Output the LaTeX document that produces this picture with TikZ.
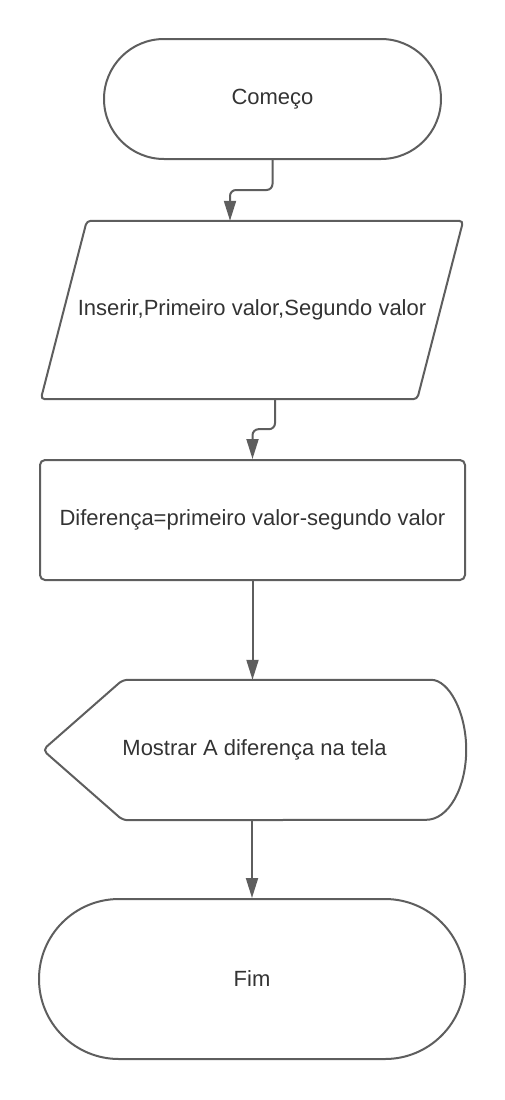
\documentclass[tikz,border=0pt]{standalone}
\usepackage{fontspec}
\setmainfont{Liberation Sans}
\usetikzlibrary{arrows.meta}
\definecolor{traco}{HTML}{5E5E5E}
\definecolor{texto}{HTML}{333333}

\begin{document}
\begin{tikzpicture}[x=1pt, y=-1pt,
    linha/.style={draw=traco, line width=2pt},
    terminal/.style={linha, rectangle, text=texto},
    caixa/.style={linha, rectangle, rounded corners=5pt, text=texto},
    seta/.style={draw=traco, line width=2pt, -{Triangle[length=20pt, width=12pt]}, rounded corners=6pt},
    font=\fontsize{22}{26}\selectfont]
        \useasboundingbox (0,0) rectangle (505,1100);

        \node[terminal, rounded corners=60pt, minimum width=337pt, minimum height=120pt] (comeco) at (272.5,99) {Começo};

        \node[text=texto, minimum width=422pt, minimum height=178pt] (entrada) at (252,310) {Inserir,Primeiro valor,Segundo valor};
        \draw[linha, rounded corners=4pt] ([xshift=46pt]entrada.north west) -- (entrada.north east) -- ([xshift=-46pt]entrada.south east) -- (entrada.south west) -- cycle;

        \node[caixa, minimum width=425pt, minimum height=120pt] (calculo) at (252.5,520) {Diferença=primeiro valor-segundo valor};

        \node[text=texto, minimum width=423pt, minimum height=140pt] (mostra) at (254.5,750) {Mostrar A diferença na tela};
        \draw[linha] ([xshift=-40pt]mostra.north east) arc[start angle=90, end angle=-90, x radius=40pt, y radius=70pt] [rounded corners=5pt] -- ([xshift=80pt]mostra.south west) -- (mostra.west) -- ([xshift=80pt]mostra.north west) -- cycle;

        \node[terminal, rounded corners=80pt, minimum width=426pt, minimum height=160pt] (fim) at (252,979) {Fim};

        \draw[seta] (comeco.south) -- ++(0,30) -| ([xshift=-22pt]entrada.north);
        \draw[seta] ([xshift=23pt]entrada.south) -- ++(0,30) -| (calculo.north);
        \draw[seta] (calculo.south) -- (calculo.south |- mostra.north);
        \draw[seta] (fim.north |- mostra.south) -- (fim.north);
      \end{tikzpicture}
\end{document}
